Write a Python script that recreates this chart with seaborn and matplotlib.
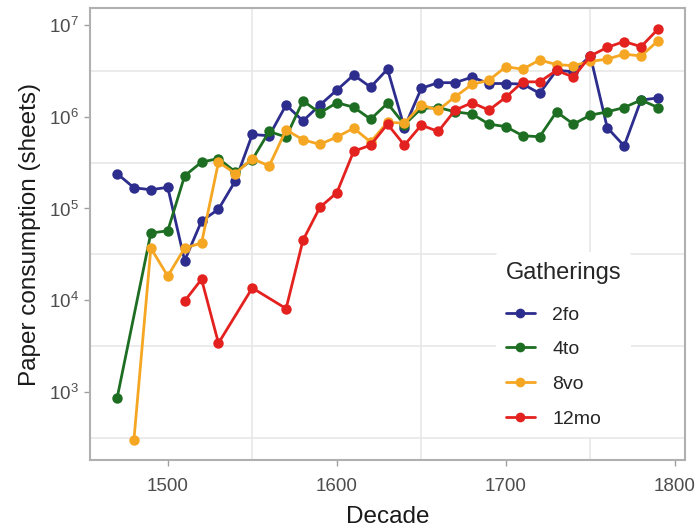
import numpy as np
import pandas as pd
import matplotlib
matplotlib.use("Agg")
import matplotlib.pyplot as plt
import matplotlib.ticker as mticker
import seaborn as sns

decades = list(range(1470, 1800, 10))
N = None
fo2 = [2.4e5, 1.68e5, 1.6e5, 1.7e5, 2.7e4, 7.3e4, 9.8e4, 2.0e5, 6.4e5, 6.2e5,
       1.34e6, 9.0e5, 1.34e6, 1.95e6, 2.85e6, 2.1e6, 3.3e6, 7.6e5, 2.04e6, 2.35e6,
       2.35e6, 2.7e6, 2.3e6, 2.3e6, 2.27e6, 1.8e6, 3.2e6, 3.1e6, 4.6e6, 7.6e5,
       4.8e5, 1.52e6, 1.6e6]
to4 = [850, N, 5.4e4, 5.7e4, 2.27e5, 3.2e5, 3.5e5, 2.5e5, 3.4e5, 6.9e5,
       6.0e5, 1.49e6, 1.1e6, 1.42e6, 1.27e6, 9.4e5, 1.4e6, 8.2e5, 1.23e6, 1.26e6,
       1.13e6, 1.07e6, 8.3e5, 7.8e5, 6.2e5, 6.05e5, 1.13e6, 8.3e5, 1.04e6, 1.13e6,
       1.26e6, 1.52e6, 1.26e6]
vo8 = [N, 303, 3.7e4, 1.83e4, 3.7e4, 4.2e4, 3.2e5, 2.4e5, 3.5e5, 2.9e5,
       7.2e5, 5.6e5, 5.0e5, 6.0e5, 7.5e5, 5.3e5, 8.7e5, 8.5e5, 1.34e6, 1.18e6,
       1.65e6, 2.25e6, 2.5e6, 3.5e6, 3.3e6, 4.15e6, 3.7e6, 3.6e6, 4.0e6, 4.25e6,
       4.8e6, 4.6e6, 6.7e6]
mo12 = [N, N, N, N, 9.8e3, 1.69e4, 3.4e3, N, 1.36e4, N,
        8.1e3, 4.5e4, 1.03e5, 1.48e5, 4.2e5, 4.9e5, 8.3e5, 4.9e5, 8.1e5, 6.9e5,
        1.18e6, 1.42e6, 1.18e6, 1.63e6, 2.4e6, 2.4e6, 3.2e6, 2.7e6, 4.6e6, 5.7e6,
        6.6e6, 5.8e6, 9.0e6]
groups = ["2fo", "4to", "8vo", "12mo"]
colors = ["#2d2d8e", "#1d6e22", "#f5a623", "#e3221f"]

rows = []
for g, vals in zip(groups, [fo2, to4, vo8, mo12]):
    for d, v in zip(decades, vals):
        if v is not None:
            rows.append({"Decade": d, "Sheets": v, "Gatherings": g})
df = pd.DataFrame(rows)

sns.set_style("white")
plt.rcParams["font.family"] = ["Liberation Sans", "DejaVu Sans"]
plt.rcParams["mathtext.fontset"] = "custom"
plt.rcParams["mathtext.rm"] = "Liberation Sans"
plt.rcParams["mathtext.it"] = "Liberation Sans"

W, H = 699, 527
fig = plt.figure(figsize=(W / 100, H / 100), dpi=100)
ax = fig.add_axes([90 / W, 1 - 460 / H, (685 - 90) / W, (460 - 8) / H])

sns.lineplot(data=df, x="Decade", y="Sheets", hue="Gatherings", hue_order=groups,
             palette=colors, marker="o", markersize=7.5, markeredgewidth=0,
             linewidth=2.0, ax=ax, sort=True, estimator=None)

ax.set_yscale("log")
ax.set_xlim(1454, 1806)
ax.set_ylim(10 ** 2.258, 10 ** 7.185)

ax.set_xticks([1500, 1600, 1700, 1800])
ax.set_xticks([1550, 1650, 1750], minor=True)
ax.yaxis.set_major_locator(mticker.FixedLocator([1e3, 1e4, 1e5, 1e6, 1e7]))
ax.yaxis.set_major_formatter(mticker.LogFormatterSciNotation())
ax.yaxis.set_minor_locator(mticker.FixedLocator([10 ** (k + 0.5) for k in range(2, 7)]))
ax.yaxis.set_minor_formatter(mticker.NullFormatter())

ax.grid(False, which="major")
ax.grid(True, which="minor", color="#e6e6e6", linewidth=1.1)
ax.set_axisbelow(True)
ax.tick_params(which="minor", length=0)
ax.tick_params(which="major", length=4, width=1, color="#a0a0a0",
               labelsize=13.5, labelcolor="#4d4d4d", direction="out")
ax.tick_params(axis="x", which="major", bottom=True, pad=9)
ax.tick_params(axis="y", which="major", left=True, pad=4)
for s in ax.spines.values():
    s.set_color("#b0b0b0")
    s.set_linewidth(1.5)

ax.set_xlabel("Decade", fontsize=17.5, color="#1a1a1a", labelpad=8)
ax.set_ylabel("Paper consumption (sheets)", fontsize=17.5, color="#1a1a1a", labelpad=6)

leg = ax.legend(title="Gatherings", loc="upper left",
                bbox_to_anchor=(496 / W, 1 - 252 / H), bbox_transform=fig.transFigure,
                frameon=True, facecolor="white", edgecolor="none", framealpha=1,
                fontsize=14, title_fontsize=17, handlelength=1.5, labelspacing=0.88,
                handletextpad=0.9, borderpad=0.5, borderaxespad=0)
leg._legend_box.align = "left"
leg._legend_box.sep = 16
for line in leg.get_lines():
    line.set_linewidth(2.0)
    line.set_markersize(7)

fig.savefig("out.png", dpi=100)
